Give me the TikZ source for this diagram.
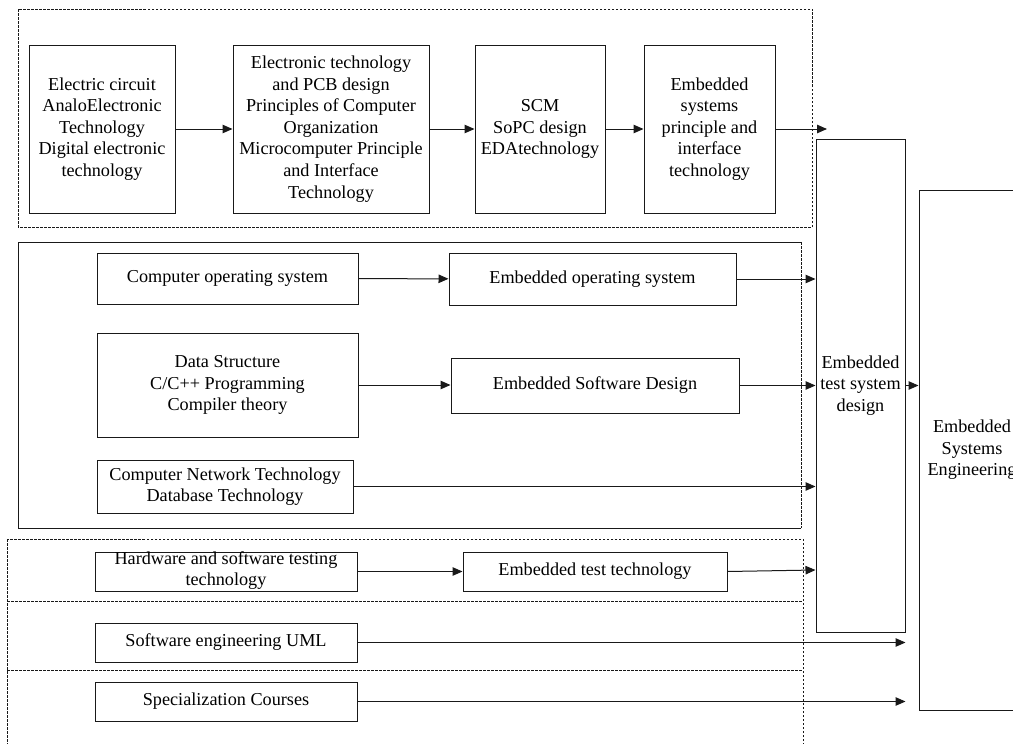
\documentclass[tikz,border=0pt]{standalone}
\usepackage{fontspec}
\setmainfont{Liberation Serif}
\usetikzlibrary{arrows.meta}
\begin{document}
\begin{tikzpicture}[x=1pt,y=-1pt,
  box/.style={draw=black!90,line width=1pt,rectangle,align=center,inner sep=2pt,
    font=\fontsize{18.2}{21.6}\selectfont},
  plain/.style={align=center,inner sep=0pt,font=\fontsize{18.2}{21.6}\selectfont},
  conn/.style={draw=black!90,line width=1pt,-{Triangle[length=10pt,width=8.5pt]}},
  dbox/.style={draw=black!90,line width=0.75pt,dash pattern=on 2.5pt off 1.5pt}]
\useasboundingbox (0,0) rectangle (1013,744);
% group frames
\draw[dbox] (18,9) rectangle (812,227);
\draw[draw=black!90,line width=1pt] (801,242) -- (18,242) -- (18,528) -- (801,528);
\draw[dbox] (801,242) -- (801,528);
\draw[dbox] (7,539) rectangle (803,744);
\draw[dbox] (7,601) -- (803,601);
\draw[dbox] (7,670) -- (803,670);
% top row
\node[box,minimum width=146pt,minimum height=168pt] (b1) at (102,129)
  {Electric circuit\\AnaloElectronic\\Technology\\Digital electronic\\technology};
\node[box,minimum width=196pt,minimum height=168pt] (b2) at (331,129)
  {Electronic technology\\and PCB design\\Principles of Computer\\Organization\\Microcomputer Principle\\and Interface\\Technology};
\node[box,minimum width=130pt,minimum height=168pt] (b3) at (540,129)
  {SCM\\SoPC design\\EDAtechnology};
\node[box,minimum width=131pt,minimum height=168pt] (b4) at (709.5,129)
  {Embedded\\systems\\principle and\\interface\\technology};
\coordinate (topend) at (827,129);
% middle section
\node[box,minimum width=261pt,minimum height=51pt] (cos) at (227.5,278.5) {Computer operating system};
\node[box,minimum width=287pt,minimum height=52pt] (eos) at (592.5,279) {Embedded operating system};
\node[box,minimum width=261pt,minimum height=104pt] (ds) at (227.5,385) {Data Structure\\C/C++ Programming\\Compiler theory};
\node[box,minimum width=288pt,minimum height=55pt] (esd) at (595,385.5) {Embedded Software Design};
\node[box,minimum width=256pt,minimum height=53pt] (net) at (225,486.5) {Computer Network Technology\\Database Technology};
% bottom section
\node[box,minimum width=262pt,minimum height=39pt] (hw) at (226,571.5) {};
\node[plain] at ([yshift=1pt]hw.center) {Hardware and software testing\\technology};
\node[box,minimum width=264pt,minimum height=39pt] (ett) at (595,571.5) {Embedded test technology};
\node[box,minimum width=262pt,minimum height=39pt] (uml) at (226,642.5) {Software engineering UML};
\node[box,minimum width=262pt,minimum height=39pt] (spec) at (226,701.5) {Specialization Courses};
% right boxes
\node[box,minimum width=89pt,minimum height=493pt] (test) at (860.5,385.5) {Embedded\\test system\\design};
\node[box,minimum width=106pt,minimum height=520pt] (ese) at (972,450) {Embedded\\Systems\\Engineering};
% connectors
\draw[conn] (b1) -- (b2);
\draw[conn] (b2) -- (b3);
\draw[conn] (b3) -- (b4);
\draw[conn] (b4.east) -- (topend);
\draw[conn] (cos) -- (eos);
\draw[conn] (eos.east) -- (eos.east -| test.west);
\draw[conn] (ds.east) -- (ds.east -| esd.west);
\draw[conn] (esd.east) -- (esd.east -| test.west);
\draw[conn] (net.east) -- (net.east -| test.west);
\draw[conn] (hw.east) -- (hw.east -| ett.west);
\draw[conn] (ett.east) -- ([yshift=1.5pt]ett.east -| test.west);
\draw[conn] (uml.east) -- (uml.east -| test.east);
\draw[conn] (spec.east) -- (spec.east -| test.east);
\draw[conn] (test.east) -- (test.east -| ese.west);
\end{tikzpicture}
\end{document}
